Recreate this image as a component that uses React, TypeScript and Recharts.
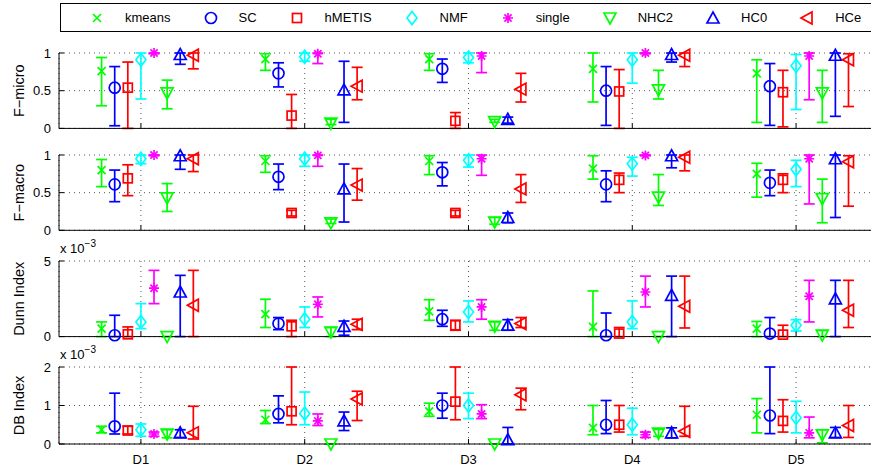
import React from 'react';
import { ComposedChart, Scatter, ErrorBar, XAxis, YAxis, CartesianGrid, Label } from 'recharts';

const FONT = '"Liberation Sans", Arial, Helvetica, sans-serif';

// methods in legend order, datasets on the x axis
const datasets = ['D1', 'D2', 'D3', 'D4', 'D5'];
const methods = ['kmeans', 'SC', 'hMETIS', 'NMF', 'single', 'NHC2', 'HC0', 'HCe'];
const colors = ['#00ff00', '#0000ff', '#ff0000', '#00ffff', '#ff00ff', '#00ff00', '#0000ff', '#ff0000'];
const markers = ['x', 'o', 's', 'd', '*', 'v', '^', '<'];
const offsets = [-0.24, -0.16, -0.08, 0, 0.08, 0.16, 0.24, 0.32];

// F-micro: mean, lower, upper (rows = methods, cols = D1..D5)
const fMicroVal = [
  [0.76, 0.92, 0.92, 0.79, 0.73],
  [0.54, 0.73, 0.79, 0.5, 0.56],
  [0.54, 0.17, 0.1, 0.49, 0.48],
  [0.91, 0.95, 0.94, 0.91, 0.83],
  [1.0, 0.99, 0.96, 1.0, 0.96],
  [0.47, 0.07, 0.09, 0.51, 0.47],
  [0.98, 0.51, 0.12, 0.98, 0.97],
  [0.97, 0.56, 0.52, 0.97, 0.91],
];
const fMicroLo = [
  [0.3, 0.77, 0.77, 0.35, 0.08],
  [0.035, 0.55, 0.61, 0.04, 0.04],
  [0.0, 0.0, 0.0, 0.0, 0.02],
  [0.39, 0.89, 0.87, 0.6, 0.25],
  [0.99, 0.86, 0.74, 0.99, 0.38],
  [0.26, 0.05, 0.08, 0.39, 0.08],
  [0.85, 0.08, 0.07, 0.88, 0.16],
  [0.79, 0.38, 0.35, 0.82, 0.29],
];
const fMicroHi = [
  [0.94, 0.99, 0.99, 1.0, 0.91],
  [0.82, 0.87, 0.92, 0.82, 0.86],
  [0.88, 0.45, 0.21, 0.78, 0.77],
  [1.0, 1.0, 1.0, 1.0, 0.98],
  [1.0, 1.0, 1.0, 1.0, 1.0],
  [0.64, 0.12, 0.12, 0.77, 0.77],
  [1.0, 0.89, 0.15, 1.0, 1.0],
  [1.0, 0.81, 0.73, 1.0, 0.99],
];

// F-macro
const fMacroVal = [
  [0.8, 0.92, 0.92, 0.82, 0.75],
  [0.61, 0.71, 0.77, 0.61, 0.63],
  [0.69, 0.23, 0.23, 0.67, 0.67],
  [0.95, 0.95, 0.93, 0.885, 0.81],
  [1.0, 0.995, 0.95, 0.995, 0.95],
  [0.43, 0.1, 0.11, 0.44, 0.42],
  [0.99, 0.55, 0.17, 0.99, 0.95],
  [0.95, 0.6, 0.55, 0.97, 0.91],
];
const fMacroLo = [
  [0.58, 0.77, 0.74, 0.68, 0.44],
  [0.38, 0.54, 0.59, 0.38, 0.46],
  [0.46, 0.19, 0.19, 0.5, 0.5],
  [0.885, 0.85, 0.84, 0.72, 0.58],
  [0.99, 0.85, 0.73, 0.99, 0.35],
  [0.25, 0.09, 0.08, 0.33, 0.1],
  [0.81, 0.11, 0.1, 0.83, 0.17],
  [0.78, 0.4, 0.37, 0.79, 0.32],
];
const fMacroHi = [
  [0.94, 0.99, 0.99, 0.99, 0.89],
  [0.8, 0.88, 0.9, 0.79, 0.8],
  [0.87, 0.265, 0.265, 0.76, 0.75],
  [1.0, 1.0, 1.0, 0.97, 0.93],
  [1.0, 1.0, 1.0, 1.0, 1.0],
  [0.62, 0.15, 0.17, 0.74, 0.68],
  [1.0, 0.88, 0.23, 1.0, 1.0],
  [1.0, 0.82, 0.74, 1.0, 0.99],
];

// Dunn index (x 1e-3)
const dunnVal = [
  [0.53, 1.48, 1.67, 0.64, 0.53],
  [0.09, 0.86, 1.15, 0.09, 0.2],
  [0.15, 0.68, 0.75, 0.2, 0.13],
  [0.97, 1.15, 1.63, 0.97, 0.75],
  [3.2, 2.14, 1.96, 2.95, 2.67],
  [0.0, 0.3, 0.68, 0.0, 0.1],
  [2.95, 0.68, 0.75, 2.73, 2.5],
  [2.07, 0.81, 0.86, 2.0, 1.74],
];
const dunnLo = [
  [0, 0.6, 1.08, 0, 0],
  [0, 0.46, 0.68, 0, 0],
  [0, 0, 0.42, 0, 0],
  [0.53, 0.6, 0.97, 0.53, 0.37],
  [2.18, 1.3, 1.15, 1.96, 0.97],
  [0, 0, 0.42, 0, 0],
  [0, 0.09, 0.42, 0, 0],
  [0, 0.46, 0.6, 0.57, 0.6],
];
const dunnHi = [
  [0.97, 2.47, 2.44, 3.02, 1.0],
  [1.41, 1.26, 1.74, 1.56, 1.26],
  [0.64, 1.08, 1.08, 0.6, 0.75],
  [2.18, 1.96, 2.36, 2.36, 1.12],
  [4.38, 2.62, 2.44, 4.0, 3.72],
  [0.0, 0.6, 0.97, 0.0, 0.4],
  [4.05, 1.03, 1.12, 4.0, 3.72],
  [4.38, 1.15, 1.26, 4.0, 3.72],
];

// DB index (x 1e-3)
const dbVal = [
  [0.37, 0.63, 0.85, 0.42, 0.76],
  [0.46, 0.78, 1.0, 0.5, 0.74],
  [0.35, 0.85, 1.1, 0.5, 0.6],
  [0.37, 0.79, 1.0, 0.5, 0.68],
  [0.26, 0.6, 0.78, 0.24, 0.29],
  [0.26, 0.0, 0.0, 0.28, 0.24],
  [0.29, 0.6, 0.11, 0.29, 0.29],
  [0.29, 1.17, 1.28, 0.33, 0.48],
];
const dbLo = [
  [0.29, 0.53, 0.72, 0.24, 0.29],
  [0.26, 0.55, 0.67, 0.27, 0.27],
  [0.26, 0.5, 0.63, 0.31, 0.31],
  [0.2, 0.5, 0.66, 0.24, 0.29],
  [0.2, 0.48, 0.66, 0.17, 0.16],
  [0.16, 0.0, 0.0, 0.2, 0.03],
  [0.17, 0.35, 0.0, 0.16, 0.17],
  [0.13, 0.61, 0.89, 0.2, 0.17],
];
const dbHi = [
  [0.46, 0.87, 1.06, 1.0, 1.18],
  [1.32, 1.25, 1.32, 1.13, 2.0],
  [0.46, 2.0, 2.0, 1.0, 1.15],
  [0.52, 1.35, 1.32, 0.93, 1.11],
  [0.31, 0.78, 1.02, 0.31, 0.7],
  [0.37, 0.0, 0.0, 0.38, 0.37],
  [0.37, 0.83, 0.43, 0.42, 0.43],
  [0.98, 1.37, 1.45, 0.98, 1.0],
];

const panels = [
  { label: 'F\u2212micro', val: fMicroVal, lo: fMicroLo, hi: fMicroHi, domain: [0, 1], ticks: [0, 0.5, 1], top: 53.3, h: 75.4, exp: false },
  { label: 'F\u2212macro', val: fMacroVal, lo: fMacroLo, hi: fMacroHi, domain: [0, 1], ticks: [0, 0.5, 1], top: 154.7, h: 75.3, exp: false },
  { label: 'Dunn Index', val: dunnVal, lo: dunnLo, hi: dunnHi, domain: [0, 5], ticks: [0, 5], top: 260.7, h: 75.6, exp: true },
  { label: 'DB Index', val: dbVal, lo: dbLo, hi: dbHi, domain: [0, 2], ticks: [0, 1, 2], top: 367.3, h: 77, exp: true },
];

const SW = 1.7;

function Marker({ type, cx, cy, color }: any) {
  const s = { fill: 'none', stroke: color, strokeWidth: SW };
  switch (type) {
    case 'x':
      return <path d={`M${cx - 4},${cy - 4}L${cx + 4},${cy + 4}M${cx - 4},${cy + 4}L${cx + 4},${cy - 4}`} {...s} />;
    case 'o':
      return <circle cx={cx} cy={cy} r={5.5} {...s} />;
    case 's':
      return <rect x={cx - 4.5} y={cy - 4.5} width={9} height={9} {...s} />;
    case 'd':
      return <path d={`M${cx},${cy - 6.5}L${cx + 5},${cy}L${cx},${cy + 6.5}L${cx - 5},${cy}Z`} {...s} />;
    case '*':
      return (
        <path
          d={`M${cx - 5},${cy}L${cx + 5},${cy}M${cx},${cy - 5}L${cx},${cy + 5}M${cx - 3.6},${cy - 3.6}L${cx + 3.6},${cy + 3.6}M${cx - 3.6},${cy + 3.6}L${cx + 3.6},${cy - 3.6}`}
          {...s}
        />
      );
    case 'v':
      return <path d={`M${cx - 6},${cy - 5}L${cx + 6},${cy - 5}L${cx},${cy + 6}Z`} {...s} />;
    case '^':
      return <path d={`M${cx - 6},${cy + 5}L${cx + 6},${cy + 5}L${cx},${cy - 6}Z`} {...s} />;
    case '<':
      return <path d={`M${cx + 5},${cy - 6}L${cx + 5},${cy + 6}L${cx - 6},${cy}Z`} {...s} />;
    default:
      return null;
  }
}

const fmtY = (v: number) => String(v);

function Panel({ p, last }: any) {
  const MT = 30;
  const XH = 30;
  const H = MT + p.h + XH;

  const renderYTick = (t: any) => {
    const ax = t.x + 8;
    return (
      <g>
        <line x1={ax} x2={ax + 5} y1={t.y} y2={t.y} stroke="#000" />
        <text x={t.x} y={t.y} dy="0.35em" textAnchor="end" fontSize={13} fontFamily={FONT} fill="#000">
          {fmtY(t.payload.value)}
        </text>
      </g>
    );
  };

  const renderXTick = (t: any) => {
    const ay = t.y - 11;
    return (
      <g>
        <line x1={t.x} x2={t.x} y1={ay} y2={ay - 5} stroke="#000" />
        {last && (
          <text x={t.x} y={t.y} dy="0.71em" textAnchor="middle" fontSize={13} fontFamily={FONT} fill="#000">
            {datasets[t.payload.value - 1]}
          </text>
        )}
      </g>
    );
  };

  const renderLabel = (props: any) => {
    const vb = props.viewBox;
    const cy = vb.y + vb.height / 2;
    return (
      <g>
        <text x={24} y={cy} transform={`rotate(-90 24 ${cy})`} textAnchor="middle" fontSize={14.5} fontFamily={FONT} fill="#000">
          {p.label}
        </text>
        {p.exp && (
          <text x={60} y={vb.y - 8} fontSize={13} fontFamily={FONT} fill="#000">
            x 10<tspan dy={-6} fontSize={10}>{'\u22123'}</tspan>
          </text>
        )}
      </g>
    );
  };

  return (
    <div style={{ position: 'absolute', left: 0, top: p.top - MT }}>
      <ComposedChart width={878} height={H} margin={{ top: MT, right: 0, bottom: 0, left: 19 }}>
        <CartesianGrid stroke="#555" strokeDasharray="1 4" />
        <XAxis
          type="number"
          dataKey="x"
          domain={[0.5, 5.5]}
          ticks={[1, 2, 3, 4, 5]}
          interval={0}
          height={XH}
          axisLine={{ stroke: '#000' }}
          tickLine={false}
          tickSize={0}
          tickMargin={11}
          tick={renderXTick}
        />
        <YAxis
          type="number"
          dataKey="y"
          domain={p.domain}
          ticks={p.ticks}
          interval={0}
          width={40}
          axisLine={{ stroke: '#000' }}
          tickLine={false}
          tickSize={0}
          tickMargin={8}
          tick={renderYTick}
        >
          <Label content={renderLabel} />
        </YAxis>
        {methods.map((m, mi) => {
          const data = datasets.map((d, di) => {
            const v = p.val[mi][di];
            return { x: di + 1 + offsets[mi], y: v, err: [v - p.lo[mi][di], p.hi[mi][di] - v] };
          });
          return (
            <Scatter
              key={m}
              name={m}
              data={data}
              isAnimationActive={false}
              shape={(s: any) => <Marker type={markers[mi]} cx={s.cx} cy={s.cy} color={colors[mi]} />}
            >
              <ErrorBar dataKey="err" direction="y" width={5.5} stroke={colors[mi]} strokeWidth={SW} isAnimationActive={false} />
            </Scatter>
          );
        })}
      </ComposedChart>
    </div>
  );
}

function LegendBox() {
  return (
    <div
      style={{
        position: 'absolute',
        left: 60,
        top: 3,
        width: 840,
        height: 27,
        border: '1px solid #000',
        background: '#fff',
        display: 'flex',
        alignItems: 'center',
        paddingLeft: 28,
        boxSizing: 'content-box',
        fontFamily: FONT,
        fontSize: 13,
        whiteSpace: 'nowrap',
      }}
    >
      {methods.map((m, i) => (
        <div key={m} style={{ display: 'flex', alignItems: 'center', marginRight: 32 }}>
          <svg width={16} height={16} style={{ overflow: 'visible' }}>
            <Marker type={markers[i]} cx={8} cy={8} color={colors[i]} />
          </svg>
          <span style={{ marginLeft: 20 }}>{m}</span>
        </div>
      ))}
    </div>
  );
}

export default function App() {
  return (
    <div style={{ position: 'absolute', left: 0, top: 0, width: 871, height: 468, overflow: 'hidden', background: '#fff' }}>
      <LegendBox />
      {panels.map((p, i) => (
        <Panel key={p.label} p={p} last={i === panels.length - 1} />
      ))}
    </div>
  );
}
